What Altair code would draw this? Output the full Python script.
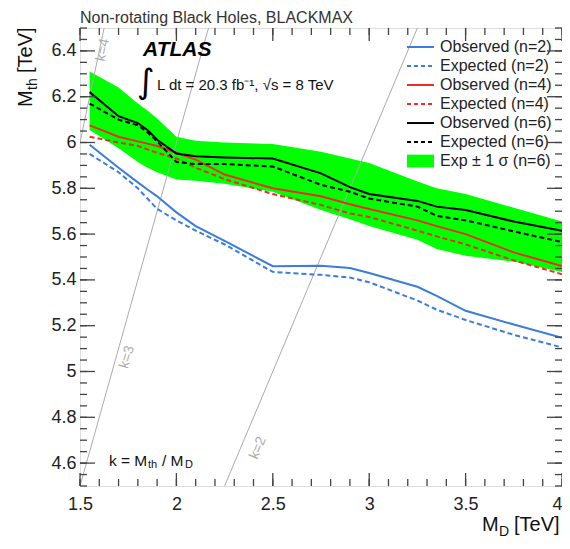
import altair as alt
import pandas as pd

# ---------------- data ----------------
MD = [1.55, 1.7, 1.8, 1.85, 1.9, 2.0, 2.1, 2.25, 2.5, 2.75, 2.9, 3.0, 3.25, 3.35, 3.5, 3.75, 4.0]
obs_n2 = [5.99, 5.89, 5.826, 5.795, 5.765, 5.695, 5.635, 5.57, 5.46, 5.462, 5.452, 5.43, 5.37, 5.33, 5.265, 5.205, 5.147]
exp_n2 = [5.95, 5.87, 5.80, 5.755, 5.71, 5.66, 5.615, 5.555, 5.435, 5.422, 5.41, 5.39, 5.31, 5.27, 5.225, 5.16, 5.105]
obs_n4 = [6.075, 6.025, 6.005, 5.995, 5.985, 5.955, 5.925, 5.86, 5.80, 5.765, 5.73, 5.71, 5.66, 5.635, 5.60, 5.52, 5.46]
exp_n4 = [6.025, 6.0, 5.985, 5.97, 5.955, 5.93, 5.89, 5.84, 5.775, 5.727, 5.69, 5.675, 5.615, 5.59, 5.555, 5.485, 5.425]
obs_n6 = [6.22, 6.115, 6.085, 6.055, 6.012, 5.952, 5.94, 5.935, 5.93, 5.865, 5.805, 5.775, 5.745, 5.72, 5.705, 5.655, 5.615]
exp_n6 = [6.17, 6.10, 6.075, 6.045, 6.005, 5.915, 5.906, 5.906, 5.895, 5.815, 5.785, 5.755, 5.72, 5.68, 5.66, 5.612, 5.565]
band_hi = [6.31, 6.24, 6.17, 6.14, 6.105, 6.025, 6.008, 6.0, 5.993, 5.96, 5.93, 5.91, 5.83, 5.80, 5.775, 5.715, 5.655]
band_lo = [6.055, 5.975, 5.915, 5.89, 5.87, 5.838, 5.833, 5.82, 5.785, 5.705, 5.665, 5.635, 5.575, 5.535, 5.505, 5.48, 5.435]

K_VALUES = [2, 3, 4]
X_DOMAIN = [1.5, 4.0]
Y_DOMAIN = [4.5, 6.5]
X_LABELS = [1.5, 2, 2.5, 3, 3.5, 4]
Y_LABELS = [4.6, 4.8, 5.0, 5.2, 5.4, 5.6, 5.8, 6.0, 6.2, 6.4]
X_MINOR = [round(1.5 + 0.1 * i, 2) for i in range(26)]
Y_MINOR = [round(4.5 + 0.05 * i, 2) for i in range(41)]

LEGEND_LABELS = ["Observed (n=2)", "Expected (n=2)", "Observed (n=4)", "Expected (n=4)",
                 "Observed (n=6)", "Expected (n=6)", "Exp \u00b1 1 \u03c3 (n=6)"]

BLUE = "#3b7ddd"
RED = "#ee2b2b"
BLACK = "#000000"
GREEN = "#00ff00"
GREY = "#ababab"
AXC = "#444444"

W, H = 482, 458
FONT = "Liberation Sans"

xs = alt.Scale(domain=X_DOMAIN, nice=False, zero=False)
ys = alt.Scale(domain=Y_DOMAIN, nice=False, zero=False)
xaxis = alt.Axis(values=X_LABELS, format="~g", title=None, ticks=False, domain=False, grid=False,
                 labelFontSize=18, labelFont=FONT, labelColor="#222", labelPadding=9,
                 labelFlush=False, labelOverlap=False,
                 labelAlign={"condition": {"test": "datum.value >= 4", "value": "right"}, "value": "center"})
yaxis = alt.Axis(values=Y_LABELS, format="~g", title=None, ticks=False, domain=False, grid=False,
                 labelFontSize=18, labelFont=FONT, labelColor="#222", labelPadding=4,
                 labelOverlap=False)


def X(field="MD"):
    return alt.X(f"{field}:Q", scale=xs, axis=xaxis)


def Y(field="Mth"):
    return alt.Y(f"{field}:Q", scale=ys, axis=yaxis)


layers = []

# band
band_df = pd.DataFrame({"MD": MD, "lo": band_lo, "hi": band_hi})
layers.append(alt.Chart(band_df).mark_area(color=GREEN, opacity=1, clip=True)
              .encode(x=X(), y=Y("lo"), y2="hi:Q"))

# k lines (k = Mth / MD)
k_rows = []
for k in K_VALUES:
    lo = max(X_DOMAIN[0], Y_DOMAIN[0] / k)
    hi = min(X_DOMAIN[1], Y_DOMAIN[1] / k)
    k_rows += [{"k": k, "MD": lo, "Mth": k * lo}, {"k": k, "MD": hi, "Mth": k * hi}]
layers.append(alt.Chart(pd.DataFrame(k_rows)).mark_line(color=GREY, strokeWidth=1, clip=True)
              .encode(x=X(), y=Y(), detail="k:N"))


def curve(values, color, dashed):
    df = pd.DataFrame({"MD": MD, "Mth": values})
    kw = dict(color=color, strokeWidth=2, clip=True)
    if dashed:
        kw["strokeDash"] = [5, 3]
    return alt.Chart(df).mark_line(**kw).encode(x=X(), y=Y())


series = [(obs_n2, BLUE, False), (exp_n2, BLUE, True), (obs_n4, RED, False), (exp_n4, RED, True),
          (obs_n6, BLACK, False), (exp_n6, BLACK, True)]
for vals, c, d in series:
    layers.append(curve(vals, c, d))


def text(md, mth, s, size=15, color="#222", align="left", baseline="middle", angle=0,
         dx=0, dy=0, font=FONT, **kw):
    df = pd.DataFrame({"MD": [md], "Mth": [mth], "t": [s]})
    return alt.Chart(df).mark_text(align=align, baseline=baseline, fontSize=size, color=color,
                                   angle=angle, dx=dx, dy=dy, font=font, **kw).encode(
        x=X(), y=Y(), text="t:N")


# k labels
layers.append(text(1.619, 6.404, "k=4", size=14, color=GREY, align="center", angle=282))
layers.append(text(1.744, 5.063, "k=3", size=14, color=GREY, align="center", angle=286))
layers.append(text(2.423, 4.666, "k=2", size=14, color=GREY, align="center", angle=293))

# legend
LEG_TOP, LEG_STEP = 6.417, 0.083
LEG_X0, LEG_X1, LEG_TX = 3.196, 3.336, 3.367
for i, (vals, c, d) in enumerate(series):
    yv = LEG_TOP - i * LEG_STEP
    df = pd.DataFrame({"MD": [LEG_X0], "MD2": [LEG_X1], "Mth": [yv]})
    kw = dict(color=c, strokeWidth=2)
    if d:
        kw["strokeDash"] = [4, 3]
    layers.append(alt.Chart(df).mark_rule(**kw).encode(x=X(), x2="MD2:Q", y=Y()))
yb = LEG_TOP - 6 * LEG_STEP
layers.append(alt.Chart(pd.DataFrame({"MD": [LEG_X0], "MD2": [LEG_X1], "Mth": [yb - 0.028], "Mth2": [yb + 0.028]}))
              .mark_rect(color=GREEN).encode(x=X(), x2="MD2:Q", y=Y(), y2="Mth2:Q"))
for i, lab in enumerate(LEGEND_LABELS):
    layers.append(text(LEG_TX, LEG_TOP - i * LEG_STEP, lab, size=16, color="#222"))

# annotations
layers.append(text(1.5, 6.522, "Non-rotating Black Holes, BLACKMAX", size=16, color="#333",
                   baseline="alphabetic"))
layers.append(text(1.827, 6.402, "ATLAS", size=21, color="#000", fontStyle="italic", fontWeight="bold"))
layers.append(text(1.842, 6.262, "\u222b", size=34, color="#000", align="center", font="DejaVu Sans"))
layers.append(text(1.899, 6.251, "L dt = 20.3 fb\u207b\u00b9, \u221as = 8 TeV", size=15, color="#111"))

# k = Mth / MD
layers.append(text(1.650, 4.609, "k = M", size=15.5, color="#111"))
layers.append(text(1.650, 4.609, "th", size=11, color="#111", dx=39, dy=4))
layers.append(text(1.650, 4.609, "/ M", size=15.5, color="#111", dx=53))
layers.append(text(1.650, 4.609, "D", size=11, color="#111", dx=76, dy=4))

# axis titles
layers.append(text(1.251, 6.155, "M", size=20, color="#111", angle=270, baseline="alphabetic"))
layers.append(text(1.251, 6.155, "th", size=14, color="#111", angle=270, baseline="alphabetic", dx=17, dy=5))
layers.append(text(1.251, 6.155, "[TeV]", size=20, color="#111", angle=270, baseline="alphabetic", dx=34))
layers.append(text(3.585, 4.303, "M", size=20, color="#111", baseline="alphabetic"))
layers.append(text(3.585, 4.303, "D", size=14, color="#111", baseline="alphabetic", dx=17, dy=5))
layers.append(text(3.585, 4.303, "[TeV]", size=20, color="#111", baseline="alphabetic", dx=32))

# inward ticks on all four sides
xmaj = pd.DataFrame({"MD": X_LABELS})
xmin = pd.DataFrame({"MD": X_MINOR})
ymaj = pd.DataFrame({"Mth": Y_LABELS})
ymin = pd.DataFrame({"Mth": Y_MINOR})
tk = dict(color=AXC, strokeWidth=1.3)
for df, ln in [(xmaj, 13), (xmin, 7)]:
    layers.append(alt.Chart(df).mark_rule(**tk).encode(x=X(), y=alt.value(H), y2=alt.value(H - ln)))
    layers.append(alt.Chart(df).mark_rule(**tk).encode(x=X(), y=alt.value(0), y2=alt.value(ln)))
for df, ln in [(ymaj, 15), (ymin, 7)]:
    layers.append(alt.Chart(df).mark_rule(**tk).encode(y=Y(), x=alt.value(0), x2=alt.value(ln)))
    layers.append(alt.Chart(df).mark_rule(**tk).encode(y=Y(), x=alt.value(W), x2=alt.value(W - ln)))

chart = alt.layer(*layers).properties(
    width=W, height=H,
    padding={"left": 72, "top": 20, "right": 0, "bottom": 55},
    autosize=alt.AutoSizeParams(type="none"),
).configure_view(stroke=AXC, strokeWidth=1.5).configure(background="white")

chart.save("out.html", embed_options={"renderer": "svg", "actions": False})
